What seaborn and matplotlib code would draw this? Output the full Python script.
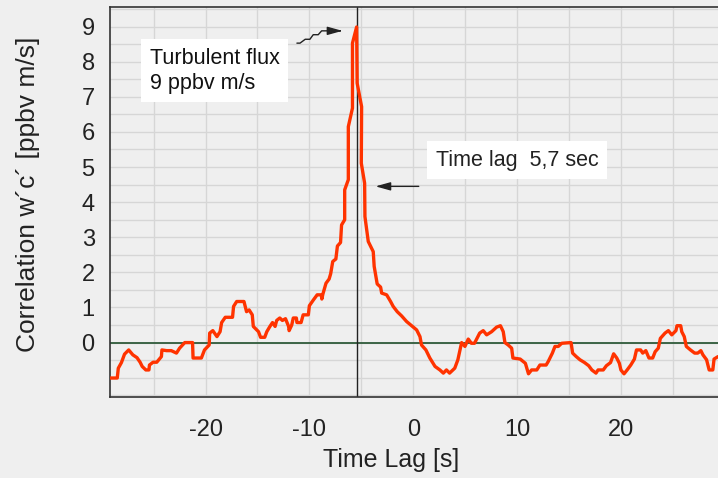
import matplotlib
matplotlib.use('Agg')
import matplotlib.pyplot as plt
import seaborn as sns
import numpy as np
import pandas as pd

# time lag [s] and covariance w'c' [ppbv m/s]
lag = [-29.2, -28.5, -28.4, -28.1, -27.8, -27.4, -27.0, -26.6, -26.3, -26.1,
       -25.75, -25.45, -25.4, -25.05, -24.7, -24.25, -24.2, -23.75, -23.3, -22.8,
       -22.5, -22.0, -21.25, -21.2, -20.4, -20.1, -19.65, -19.6, -19.3, -18.9,
       -18.6, -18.45, -18.1, -17.4, -17.3, -17.0, -16.3, -16.05, -15.8, -15.5,
       -15.4, -14.9, -14.7, -14.3, -14.1, -13.8, -13.55, -13.3, -13.15, -12.85,
       -12.6, -12.3, -12.0, -11.95, -11.7, -11.55, -11.25, -11.2, -10.8, -10.6,
       -10.1, -10.0, -9.6, -9.25, -8.85, -8.8, -8.7, -8.4, -8.1, -7.95,
       -7.75, -7.45, -7.3, -7.0, -6.9, -6.6, -6.6, -6.25, -6.25, -5.85,
       -5.85, -5.45, -5.4, -4.97, -5.0, -4.68, -4.65, -4.33, -3.85, -3.76,
       -3.47, -3.14, -3.04, -2.56, -2.18, -1.93, -1.54, -1.12, -0.64, -0.15,
       0.33, 0.65, 0.8, 1.22, 1.6, 2.1, 2.57, 2.9, 3.2, 3.5,
       4.0, 4.3, 4.66, 4.98, 5.3, 5.6, 5.9, 6.4, 6.74, 7.07,
       7.55, 8.03, 8.4, 8.67, 8.83, 9.15, 9.48, 9.6, 10.3, 10.8,
       11.1, 11.4, 11.9, 12.2, 12.8, 13.0, 13.4, 13.65, 13.97, 14.3,
       15.2, 15.35, 15.7, 16.06, 16.5, 16.9, 17.2, 17.6, 17.8, 18.3,
       18.6, 19.0, 19.3, 19.6, 19.85, 20.0, 20.3, 20.6, 20.95, 21.3,
       21.5, 21.9, 22.1, 22.4, 22.7, 23.06, 23.3, 23.6, 23.8, 24.25,
       24.57, 24.9, 25.3, 25.4, 25.76, 25.86, 26.1, 26.3, 26.7, 27.1,
       27.4, 27.7, 27.9, 28.25, 28.5, 28.85, 28.97, 29.35]
corr = [-1.01, -1.01, -0.73, -0.57, -0.33, -0.21, -0.35, -0.43, -0.56, -0.68,
        -0.78, -0.78, -0.64, -0.56, -0.56, -0.40, -0.21, -0.23, -0.23, -0.30,
        -0.16, 0.0, 0.0, -0.44, -0.44, -0.21, -0.07, 0.27, 0.34, 0.17,
        0.31, 0.57, 0.72, 0.72, 1.03, 1.17, 1.17, 0.88, 0.93, 0.79,
        0.46, 0.31, 0.15, 0.15, 0.31, 0.46, 0.57, 0.46, 0.63, 0.70,
        0.63, 0.68, 0.46, 0.34, 0.50, 0.70, 0.70, 0.57, 0.57, 0.79,
        0.79, 1.05, 1.22, 1.36, 1.36, 1.24, 1.38, 1.69, 1.81, 1.96,
        2.31, 2.38, 2.75, 2.85, 3.35, 3.50, 4.35, 4.64, 6.15, 6.68,
        8.53, 8.99, 7.39, 6.72, 5.11, 4.54, 3.59, 2.88, 2.59, 2.17,
        1.67, 1.58, 1.41, 1.36, 1.17, 1.03, 0.88, 0.76, 0.60, 0.48,
        0.36, 0.17, -0.07, -0.21, -0.44, -0.68, -0.78, -0.87, -0.78, -0.87,
        -0.73, -0.49, 0.0, -0.11, 0.10, -0.02, -0.02, 0.27, 0.34, 0.22,
        0.31, 0.44, 0.48, 0.31, 0.0, -0.07, -0.16, -0.44, -0.47, -0.59,
        -0.89, -0.78, -0.78, -0.64, -0.64, -0.54, -0.30, -0.11, -0.11, -0.02,
        0.0, -0.30, -0.40, -0.49, -0.57, -0.66, -0.78, -0.87, -0.78, -0.78,
        -0.66, -0.57, -0.32, -0.44, -0.59, -0.78, -0.89, -0.78, -0.64, -0.47,
        -0.21, -0.21, -0.30, -0.23, -0.44, -0.44, -0.26, -0.16, 0.12, 0.27,
        0.34, 0.22, 0.34, 0.48, 0.48, 0.31, 0.17, -0.11, -0.21, -0.30,
        -0.30, -0.23, -0.35, -0.49, -0.78, -0.78, -0.47, -0.40]

x_ticks = [-25, -20, -15, -10, -5, 0, 5, 10, 15, 20, 25]
x_labels = ['', '-20', '', '-10', '', '0', '', '10', '', '20', '']
y_ticks = np.arange(-1.5, 9.51, 0.5)
y_labels = [str(int(v)) if (v >= 0 and v == int(v)) else '' for v in y_ticks]

peak_lag = -5.45

df = pd.DataFrame({'lag': lag, 'corr': corr})

sns.set_style('white')
plt.rcParams['font.family'] = ['Liberation Sans', 'DejaVu Sans']

fig = plt.figure(figsize=(7.18, 4.78), dpi=100, facecolor='#efefef')
ax = fig.add_axes([0.1532, 0.1695, 0.8468, 0.8159])
ax.set_facecolor('#efefef')

ax.set_xlim(-29.2, 29.35)
ax.set_ylim(-1.55, 9.56)

ax.set_xticks(x_ticks)
ax.set_xticklabels(x_labels)
ax.set_yticks(y_ticks)
ax.set_yticklabels(y_labels)
ax.grid(True, color='#d6d6d6', linewidth=1.0)
ax.set_axisbelow(True)
ax.tick_params(direction='in', length=7, width=1, color='#333333',
               labelsize=17, labelcolor='#222222')
ax.tick_params(axis='x', pad=16)
ax.tick_params(axis='y', pad=11)

for side in ['left', 'bottom', 'top']:
    ax.spines[side].set_color('#333333')
    ax.spines[side].set_linewidth(1.2)
ax.spines['right'].set_visible(False)

# zero line and time-lag marker
ax.axhline(0, color='#2f5a3a', linewidth=1.3, zorder=2)
ax.axvline(peak_lag, color='#222222', linewidth=1.0, zorder=2)

sns.lineplot(data=df, x='lag', y='corr', sort=False, estimator=None,
             color='#ff3300', linewidth=2.4, ax=ax, zorder=3)

ax.set_xlabel('Time Lag [s]', fontsize=18, color='#222222')
ax.set_ylabel('Correlation w´c´ [ppbv m/s]', fontsize=19, color='#222222')
ax.xaxis.set_label_coords(0.462, -0.13)
ax.yaxis.set_label_coords(-0.115, 0.52)

# annotation boxes
ax.text(-25.35, 8.4, 'Turbulent flux\n9 ppbv m/s', fontsize=15.5, color='#111111',
        va='top', ha='left', linespacing=1.25,
        bbox=dict(boxstyle='square,pad=0.4', facecolor='white', edgecolor='none'))
ax.text(2.2, 5.2, 'Time lag  5,7 sec', fontsize=15.5, color='#222222',
        va='center', ha='left',
        bbox=dict(boxstyle='square,pad=0.4', facecolor='white', edgecolor='none'))

# staircase pointer to the peak
ax.plot([-11.2, -10.9, -10.4, -9.95, -9.63, -9.15, -8.82, -7.4],
        [8.53, 8.53, 8.64, 8.64, 8.77, 8.77, 8.88, 8.88],
        color='#222222', linewidth=1.0, zorder=4)
ax.annotate('', xy=(-6.55, 8.88), xytext=(-7.5, 8.88),
            arrowprops=dict(arrowstyle='-|>,head_length=0.9,head_width=0.25',
                            color='#222222', linewidth=1.0))
ax.annotate('', xy=(-3.9, 4.45), xytext=(0.8, 4.45),
            arrowprops=dict(arrowstyle='-|>,head_length=0.9,head_width=0.25',
                            color='#222222', linewidth=1.0))

fig.savefig('out.png', dpi=100, facecolor=fig.get_facecolor())
